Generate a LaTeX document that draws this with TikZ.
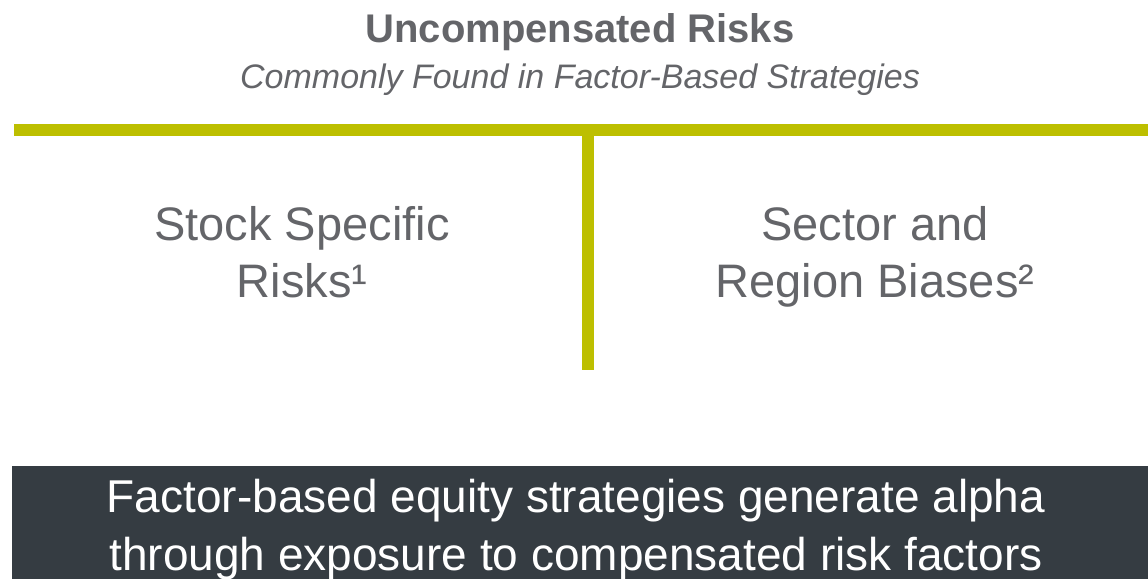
\documentclass[tikz,border=0pt]{standalone}
\usepackage{fontspec}
\setmainfont{Liberation Sans}
\definecolor{barGreen}{HTML}{BDBF00}
\definecolor{txtGray}{HTML}{646569}
\definecolor{panelDark}{HTML}{353C42}
\tikzset{
  headline/.style={anchor=base, inner sep=0pt, text=txtGray, font=\fontsize{40}{48}\selectfont\bfseries},
  subline/.style={anchor=base, inner sep=0pt, text=txtGray, font=\fontsize{34}{41}\selectfont\itshape},
  % base anchor of a multi-line node sits on its last line
  riskbox/.style={anchor=base, inner sep=0pt, align=center, text=txtGray, font=\fontsize{47}{57}\selectfont},
  claimtext/.style={anchor=base, inner sep=0pt, align=center, text=white, font=\fontsize{46}{58}\selectfont},
}
\begin{document}
\begin{tikzpicture}[x=1pt,y=-1pt]
\useasboundingbox (0,0) rectangle (1148,579);
% T-shaped divider
\fill[barGreen] (14,124) rectangle (1148,136);
\fill[barGreen] (582,124) rectangle (594,370);
% dark panel at the bottom
\fill[panelDark] (12,466) rectangle (1148,579);
% headings
\node[headline] (head) at (580,42) {Uncompensated Risks};
\node[subline] (subhead) at (580,88) {Commonly Found in Factor-Based Strategies};
% the two risk categories
\node[riskbox] (stock) at (302,297) {Stock Specific\\Risks¹};
\node[riskbox] (sector) at (875,297) {Sector and\\Region Biases²};
% conclusion
\node[claimtext] (claim) at (576,570) {Factor-based equity strategies generate alpha\\through exposure to compensated risk factors};
\end{tikzpicture}
\end{document}
